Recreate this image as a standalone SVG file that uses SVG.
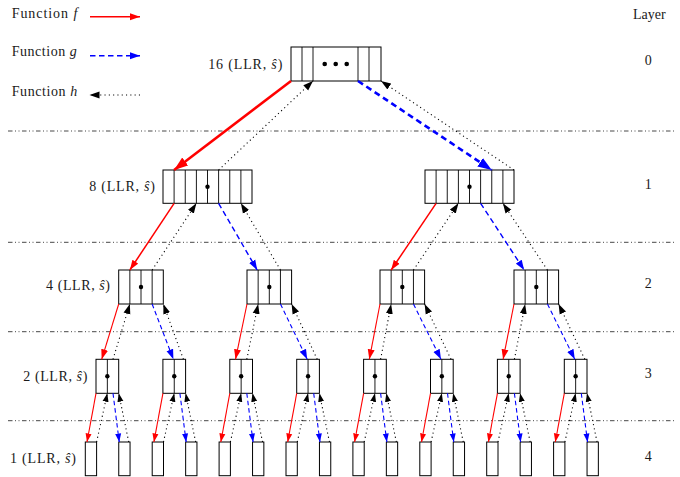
<svg xmlns="http://www.w3.org/2000/svg" width="680" height="477" viewBox="0 0 680 477">
<style>
text{font-family:"Liberation Serif","Times New Roman",serif;font-size:14px;fill:#1a1a1a}
.it{font-style:italic}
.box{fill:#fff;stroke:#000;stroke-width:1}
.dv{stroke:#000;stroke-width:0.9;fill:none}
.dot{fill:#000}
.sep{stroke:#333;stroke-width:0.9;fill:none;stroke-dasharray:4.5 2.5 1 2.5 1 2.5}
.f{stroke:#f00;fill:none;stroke-width:1.5}
.f0{stroke:#f00;fill:none;stroke-width:2.6}
.f3{stroke:#f00;fill:none;stroke-width:1.1}
.g{stroke:#00f;fill:none;stroke-width:1.4;stroke-dasharray:5.5 3.5}
.g0{stroke:#00f;fill:none;stroke-width:2.6;stroke-dasharray:6 4}
.g3{stroke:#00f;fill:none;stroke-width:1.1;stroke-dasharray:4.5 3}
.h{stroke:#000;fill:none;stroke-width:1.1;stroke-dasharray:1.1 3.2}
</style>
<defs>
<marker id="aR" markerUnits="userSpaceOnUse" markerWidth="11" markerHeight="8" refX="10" refY="4" orient="auto"><path d="M0,0.5 L10,4 L0,7.5 Z" fill="#f00"/></marker>
<marker id="aB" markerUnits="userSpaceOnUse" markerWidth="11" markerHeight="8" refX="10" refY="4" orient="auto"><path d="M0,0.5 L10,4 L0,7.5 Z" fill="#00f"/></marker>
<marker id="aK" markerUnits="userSpaceOnUse" markerWidth="11" markerHeight="8" refX="10" refY="4" orient="auto"><path d="M0,0.5 L10,4 L0,7.5 Z" fill="#000"/></marker>
<marker id="aRb" markerUnits="userSpaceOnUse" markerWidth="15" markerHeight="11" refX="14" refY="5.5" orient="auto"><path d="M0,0.5 L14,5.5 L0,10.5 Z" fill="#f00"/></marker>
<marker id="aBb" markerUnits="userSpaceOnUse" markerWidth="15" markerHeight="11" refX="14" refY="5.5" orient="auto"><path d="M0,0.5 L14,5.5 L0,10.5 Z" fill="#00f"/></marker>
<marker id="aRs" markerUnits="userSpaceOnUse" markerWidth="9" markerHeight="7" refX="8.5" refY="3.5" orient="auto"><path d="M0,0.5 L8.5,3.5 L0,6.5 Z" fill="#f00"/></marker>
<marker id="aBs" markerUnits="userSpaceOnUse" markerWidth="9" markerHeight="7" refX="8.5" refY="3.5" orient="auto"><path d="M0,0.5 L8.5,3.5 L0,6.5 Z" fill="#00f"/></marker>
<marker id="aKs" markerUnits="userSpaceOnUse" markerWidth="9" markerHeight="7" refX="8.5" refY="3.5" orient="auto"><path d="M0,0.5 L8.5,3.5 L0,6.5 Z" fill="#000"/></marker>
</defs>
<rect width="680" height="477" fill="#fff"/>

<g id="legend">
<text x="11.7" y="17.5" textLength="65.6" lengthAdjust="spacing">Function <tspan class="it">f</tspan></text>
<text x="11.7" y="56" textLength="65" lengthAdjust="spacing">Function <tspan class="it">g</tspan></text>
<text x="11.7" y="95.5" textLength="65.6" lengthAdjust="spacing">Function <tspan class="it">h</tspan></text>
<line class="f" x1="90" y1="16.7" x2="140" y2="16.7" marker-end="url(#aR)"/>
<line class="g" x1="90" y1="55.7" x2="140" y2="55.7" marker-end="url(#aB)"/>
<line class="h" x1="140" y1="95" x2="89.5" y2="95" marker-end="url(#aK)"/>
</g>

<g id="layers">
<text x="649.3" y="18.5" text-anchor="middle">Layer</text>
<text x="648.3" y="65" text-anchor="middle">0</text>
<text x="648.3" y="188.5" text-anchor="middle">1</text>
<text x="648.3" y="288" text-anchor="middle">2</text>
<text x="648.3" y="378" text-anchor="middle">3</text>
<text x="648.3" y="461" text-anchor="middle">4</text>
<path class="sep" d="M8,131H676M8,242.3H676M8,331.7H676M8,420.7H676"/>
</g>

<g id="labels">
<text x="208.3" y="69" textLength="74" lengthAdjust="spacing">16 (LLR, <tspan class="it">ŝ</tspan>)</text>
<text x="89.3" y="190.5" textLength="65.7" lengthAdjust="spacing">8 (LLR, <tspan class="it">ŝ</tspan>)</text>
<text x="46" y="289.5" textLength="64" lengthAdjust="spacing">4 (LLR, <tspan class="it">ŝ</tspan>)</text>
<text x="23.3" y="380.5" textLength="64" lengthAdjust="spacing">2 (LLR, <tspan class="it">ŝ</tspan>)</text>
<text x="10" y="463" textLength="66" lengthAdjust="spacing">1 (LLR, <tspan class="it">ŝ</tspan>)</text>
</g>

<g id="n0">
<rect class="box" x="291" y="47" width="90" height="34"/>
<path class="dv" d="M302,47V81M313,47V81M358,47V81M369,47V81"/>
<circle class="dot" cx="324.7" cy="64" r="2.3"/><circle class="dot" cx="335.7" cy="64" r="2.3"/><circle class="dot" cx="346.7" cy="64" r="2.3"/>
</g>

<g id="n1a">
<rect class="box" x="163" y="170" width="89" height="33.3"/>
<path class="dv" d="M174.1,170V203.3M185.25,170V203.3M196.4,170V203.3M207.5,170V203.3M218.6,170V203.3M229.75,170V203.3M240.9,170V203.3"/>
<circle class="dot" cx="207.5" cy="186.7" r="2.2"/>
</g>
<g id="n1b">
<rect class="box" x="425" y="170" width="89" height="33.3"/>
<path class="dv" d="M436.1,170V203.3M447.25,170V203.3M458.4,170V203.3M469.5,170V203.3M480.6,170V203.3M491.75,170V203.3M502.9,170V203.3"/>
<circle class="dot" cx="469.5" cy="186.7" r="2.2"/>
</g>

<g id="n2a"><rect class="box" x="118.7" y="270" width="44.6" height="34"/><path class="dv" d="M129.85,270V304M141,270V304M152.15,270V304"/><circle class="dot" cx="141" cy="287" r="2.2"/></g>
<g id="n2b"><rect class="box" x="247" y="270" width="44.6" height="34"/><path class="dv" d="M258.15,270V304M269.3,270V304M280.45,270V304"/><circle class="dot" cx="269.3" cy="287" r="2.2"/></g>
<g id="n2c"><rect class="box" x="380" y="270" width="44.6" height="34"/><path class="dv" d="M391.15,270V304M402.3,270V304M413.45,270V304"/><circle class="dot" cx="402.3" cy="287" r="2.2"/></g>
<g id="n2d"><rect class="box" x="514" y="270" width="44.6" height="34"/><path class="dv" d="M525.15,270V304M536.3,270V304M547.45,270V304"/><circle class="dot" cx="536.3" cy="287" r="2.2"/></g>

<g id="n3a"><rect class="box" x="96" y="359.3" width="22.7" height="34"/><path class="dv" d="M107.35,359.3V393.3"/><circle class="dot" cx="107.35" cy="376.3" r="2.2"/></g>
<g id="n3b"><rect class="box" x="162.9" y="359.3" width="22.7" height="34"/><path class="dv" d="M174.25,359.3V393.3"/><circle class="dot" cx="174.25" cy="376.3" r="2.2"/></g>
<g id="n3c"><rect class="box" x="229.8" y="359.3" width="22.7" height="34"/><path class="dv" d="M241.15,359.3V393.3"/><circle class="dot" cx="241.15" cy="376.3" r="2.2"/></g>
<g id="n3d"><rect class="box" x="296.7" y="359.3" width="22.7" height="34"/><path class="dv" d="M308.05,359.3V393.3"/><circle class="dot" cx="308.05" cy="376.3" r="2.2"/></g>
<g id="n3e"><rect class="box" x="363.6" y="359.3" width="22.7" height="34"/><path class="dv" d="M374.95,359.3V393.3"/><circle class="dot" cx="374.95" cy="376.3" r="2.2"/></g>
<g id="n3f"><rect class="box" x="430.5" y="359.3" width="22.7" height="34"/><path class="dv" d="M441.85,359.3V393.3"/><circle class="dot" cx="441.85" cy="376.3" r="2.2"/></g>
<g id="n3g"><rect class="box" x="497.4" y="359.3" width="22.7" height="34"/><path class="dv" d="M508.75,359.3V393.3"/><circle class="dot" cx="508.75" cy="376.3" r="2.2"/></g>
<g id="n3h"><rect class="box" x="564.3" y="359.3" width="22.7" height="34"/><path class="dv" d="M575.65,359.3V393.3"/><circle class="dot" cx="575.65" cy="376.3" r="2.2"/></g>

<g id="n4a"><rect class="box" x="85.3" y="442" width="11.3" height="33.7"/></g>
<g id="n4b"><rect class="box" x="118.75" y="442" width="11.3" height="33.7"/></g>
<g id="n4c"><rect class="box" x="152.2" y="442" width="11.3" height="33.7"/></g>
<g id="n4d"><rect class="box" x="185.65" y="442" width="11.3" height="33.7"/></g>
<g id="n4e"><rect class="box" x="219.1" y="442" width="11.3" height="33.7"/></g>
<g id="n4f"><rect class="box" x="252.55" y="442" width="11.3" height="33.7"/></g>
<g id="n4g"><rect class="box" x="286" y="442" width="11.3" height="33.7"/></g>
<g id="n4h"><rect class="box" x="319.45" y="442" width="11.3" height="33.7"/></g>
<g id="n4i"><rect class="box" x="352.9" y="442" width="11.3" height="33.7"/></g>
<g id="n4j"><rect class="box" x="386.35" y="442" width="11.3" height="33.7"/></g>
<g id="n4k"><rect class="box" x="419.8" y="442" width="11.3" height="33.7"/></g>
<g id="n4l"><rect class="box" x="453.25" y="442" width="11.3" height="33.7"/></g>
<g id="n4m"><rect class="box" x="486.7" y="442" width="11.3" height="33.7"/></g>
<g id="n4n"><rect class="box" x="520.15" y="442" width="11.3" height="33.7"/></g>
<g id="n4o"><rect class="box" x="553.6" y="442" width="11.3" height="33.7"/></g>
<g id="n4p"><rect class="box" x="587.05" y="442" width="11.3" height="33.7"/></g>

<g id="connectors">
<!-- layer 0 to 1 -->
<line class="f0" x1="291" y1="81" x2="174.1" y2="170" marker-end="url(#aRb)"/>
<line class="h" x1="218.6" y1="170" x2="313" y2="81" marker-end="url(#aK)"/>
<line class="g0" x1="358" y1="81" x2="491.75" y2="170" marker-end="url(#aBb)"/>
<line class="h" x1="514" y1="170" x2="381" y2="81" marker-end="url(#aK)"/>
<!-- layer 1 to 2 -->
<line class="f" x1="174.1" y1="203.3" x2="129.85" y2="270" marker-end="url(#aR)"/>
<line class="h" x1="152.15" y1="270" x2="196.4" y2="203.3" marker-end="url(#aK)"/>
<line class="g" x1="218.6" y1="203.3" x2="257.2" y2="270" marker-end="url(#aB)"/>
<line class="h" x1="280.45" y1="270" x2="240.9" y2="203.3" marker-end="url(#aK)"/>
<line class="f" x1="436.1" y1="203.3" x2="391.15" y2="270" marker-end="url(#aR)"/>
<line class="h" x1="413.45" y1="270" x2="458.4" y2="203.3" marker-end="url(#aK)"/>
<line class="g" x1="480.6" y1="203.3" x2="524.2" y2="270" marker-end="url(#aB)"/>
<line class="h" x1="547.45" y1="270" x2="502.9" y2="203.3" marker-end="url(#aK)"/>
<!-- layer 2 to 3 -->
<line class="f3" x1="118.7" y1="304" x2="101.7" y2="359.3" marker-end="url(#aR)"/>
<line class="h" x1="113" y1="359.3" x2="129.85" y2="304" marker-end="url(#aK)"/>
<line class="g3" x1="152.15" y1="304" x2="173.4" y2="359.3" marker-end="url(#aB)"/>
<line class="h" x1="183.4" y1="359.3" x2="163.3" y2="304" marker-end="url(#aK)"/>
<line class="f3" x1="247" y1="304" x2="235.5" y2="359.3" marker-end="url(#aR)"/>
<line class="h" x1="246.8" y1="359.3" x2="258.15" y2="304" marker-end="url(#aK)"/>
<line class="g3" x1="280.45" y1="304" x2="307.2" y2="359.3" marker-end="url(#aB)"/>
<line class="h" x1="317.2" y1="359.3" x2="291.6" y2="304" marker-end="url(#aK)"/>
<line class="f3" x1="380" y1="304" x2="369.3" y2="359.3" marker-end="url(#aR)"/>
<line class="h" x1="380.6" y1="359.3" x2="391.15" y2="304" marker-end="url(#aK)"/>
<line class="g3" x1="413.45" y1="304" x2="441" y2="359.3" marker-end="url(#aB)"/>
<line class="h" x1="451" y1="359.3" x2="424.6" y2="304" marker-end="url(#aK)"/>
<line class="f3" x1="514" y1="304" x2="503.1" y2="359.3" marker-end="url(#aR)"/>
<line class="h" x1="514.4" y1="359.3" x2="525.15" y2="304" marker-end="url(#aK)"/>
<line class="g3" x1="547.45" y1="304" x2="574.8" y2="359.3" marker-end="url(#aB)"/>
<line class="h" x1="584.8" y1="359.3" x2="558.6" y2="304" marker-end="url(#aK)"/>
<!-- layer 3 to 4 -->
<line class="f3" x1="96" y1="393.3" x2="87" y2="442" marker-end="url(#aRs)"/>
<line class="h" x1="96.6" y1="442" x2="107.35" y2="393.3" marker-end="url(#aKs)"/>
<line class="g3" x1="113" y1="393.3" x2="119.25" y2="442" marker-end="url(#aBs)"/>
<line class="h" x1="128.75" y1="442" x2="118.7" y2="393.3" marker-end="url(#aKs)"/>
<line class="f3" x1="162.9" y1="393.3" x2="153.9" y2="442" marker-end="url(#aRs)"/>
<line class="h" x1="163.5" y1="442" x2="174.25" y2="393.3" marker-end="url(#aKs)"/>
<line class="g3" x1="179.9" y1="393.3" x2="186.15" y2="442" marker-end="url(#aBs)"/>
<line class="h" x1="195.65" y1="442" x2="185.6" y2="393.3" marker-end="url(#aKs)"/>
<line class="f3" x1="229.8" y1="393.3" x2="220.8" y2="442" marker-end="url(#aRs)"/>
<line class="h" x1="230.4" y1="442" x2="241.15" y2="393.3" marker-end="url(#aKs)"/>
<line class="g3" x1="246.8" y1="393.3" x2="253.05" y2="442" marker-end="url(#aBs)"/>
<line class="h" x1="262.55" y1="442" x2="252.5" y2="393.3" marker-end="url(#aKs)"/>
<line class="f3" x1="296.7" y1="393.3" x2="287.7" y2="442" marker-end="url(#aRs)"/>
<line class="h" x1="297.3" y1="442" x2="308.05" y2="393.3" marker-end="url(#aKs)"/>
<line class="g3" x1="313.7" y1="393.3" x2="319.95" y2="442" marker-end="url(#aBs)"/>
<line class="h" x1="329.45" y1="442" x2="319.4" y2="393.3" marker-end="url(#aKs)"/>
<line class="f3" x1="363.6" y1="393.3" x2="354.6" y2="442" marker-end="url(#aRs)"/>
<line class="h" x1="364.2" y1="442" x2="374.95" y2="393.3" marker-end="url(#aKs)"/>
<line class="g3" x1="380.6" y1="393.3" x2="386.85" y2="442" marker-end="url(#aBs)"/>
<line class="h" x1="396.35" y1="442" x2="386.3" y2="393.3" marker-end="url(#aKs)"/>
<line class="f3" x1="430.5" y1="393.3" x2="421.5" y2="442" marker-end="url(#aRs)"/>
<line class="h" x1="431.1" y1="442" x2="441.85" y2="393.3" marker-end="url(#aKs)"/>
<line class="g3" x1="447.5" y1="393.3" x2="453.75" y2="442" marker-end="url(#aBs)"/>
<line class="h" x1="463.25" y1="442" x2="453.2" y2="393.3" marker-end="url(#aKs)"/>
<line class="f3" x1="497.4" y1="393.3" x2="488.4" y2="442" marker-end="url(#aRs)"/>
<line class="h" x1="498" y1="442" x2="508.75" y2="393.3" marker-end="url(#aKs)"/>
<line class="g3" x1="514.4" y1="393.3" x2="520.65" y2="442" marker-end="url(#aBs)"/>
<line class="h" x1="530.15" y1="442" x2="520.1" y2="393.3" marker-end="url(#aKs)"/>
<line class="f3" x1="564.3" y1="393.3" x2="555.3" y2="442" marker-end="url(#aRs)"/>
<line class="h" x1="564.9" y1="442" x2="575.65" y2="393.3" marker-end="url(#aKs)"/>
<line class="g3" x1="581.3" y1="393.3" x2="587.55" y2="442" marker-end="url(#aBs)"/>
<line class="h" x1="597.05" y1="442" x2="587" y2="393.3" marker-end="url(#aKs)"/>
</g>
</svg>
